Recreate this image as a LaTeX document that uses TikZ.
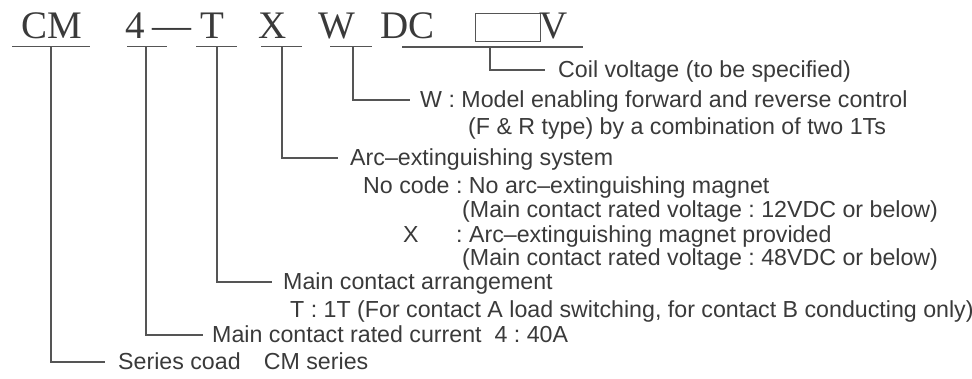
\documentclass[tikz,border=0pt]{standalone}
\usepackage{fontspec}
\setmainfont{Liberation Serif}
\newfontfamily\labelfont{Liberation Sans}
\usetikzlibrary{positioning}
\frenchspacing
\definecolor{inkgray}{HTML}{3A3A3A}
\definecolor{linegray}{HTML}{555555}
\tikzset{
  code/.style={anchor=base west, inner sep=0, font=\fontsize{39}{39}\selectfont, text=inkgray},
  desc/.style={anchor=west, inner sep=0, text height=16pt, text depth=0pt,
    font=\labelfont\fontsize{23.2}{24}\selectfont, text=inkgray},
  lead/.style={draw=linegray, line width=1.1pt},
}

\begin{document}
\begin{tikzpicture}[x=1pt,y=-1pt]
  \useasboundingbox (0,0) rectangle (972,379);
  \node[code] (cm) at (21,39) {CM};
  \node[code] (four) at (125,39) {4};
  \node[code] (dash) at (152,39) {—};
  \node[code] (tt) at (200,39) {T};
  \node[code] (xx) at (258,39) {X};
  \node[code] (ww) at (318,39) {W};
  \node[code] (dc) at (380,39) {DC};
  \node[draw=linegray, line width=1.1pt, minimum width=65pt, minimum height=28pt,
    inner sep=0, anchor=north west] (slot) at (475,13) {};
  \node[code] (vv) at (539,39) {V};
  \draw[lead] (12,46.5) -- (90,46.5)  (127,46.5) -- (167,46.5)  (196,46.5) -- (237,46.5)
    (261,46.5) -- (302,46.5)  (330,46.5) -- (372,46.5)  (402,47) -- (583,47);
  \coordinate (cm-tap) at (51,46.5);
  \coordinate (four-tap) at (146,46.5);
  \coordinate (tt-tap) at (217,46.5);
  \coordinate (xx-tap) at (282,46.5);
  \coordinate (ww-tap) at (353,46.5);
  \coordinate (dc-tap) at (490,47);

  \node[desc] (coil) at (558,70) {Coil voltage (to be specified)};
  \node[desc] (model) at (420,100) {W : Model enabling forward and reverse control};
  \node[desc] (model2) at (468,127) {(F \& R type) by a combination of two 1Ts};
  \node[desc] (arc) at (350,158) {Arc–extinguishing system};
  \node[desc] (nocode) at (363,186) {No code : No arc–extinguishing magnet};
  \node[desc] (nocode2) at (462,210) {(Main contact rated voltage : 12VDC or below)};
  \node[desc] (xcode) at (403,235) {X};
  \node[desc] (xcode1) at (456,235) {: Arc–extinguishing magnet provided};
  \node[desc] (xcode2) at (462,258) {(Main contact rated voltage : 48VDC or below)};
  \node[desc] (arr) at (283,282) {Main contact arrangement};
  \node[desc] (arr2) at (290,310) {T : 1T (For contact A load switching, for contact B conducting only)};
  \node[desc] (cur) at (212,335) {Main contact rated current\ \ 4 : 40A};
  \node[desc] (series) at (118,362) {Series coad\quad CM series};

  \draw[lead] (dc-tap) |- ([xshift=-13pt]coil.west);
  \draw[lead] (ww-tap) |- ([xshift=-10pt]model.west);
  \draw[lead] (xx-tap) |- ([xshift=-12pt]arc.west);
  \draw[lead] (tt-tap) |- ([xshift=-11pt]arr.west);
  \draw[lead] (four-tap) |- ([xshift=-9pt]cur.west);
  \draw[lead] (cm-tap) |- ([xshift=-13pt]series.west);
\end{tikzpicture}
\end{document}
